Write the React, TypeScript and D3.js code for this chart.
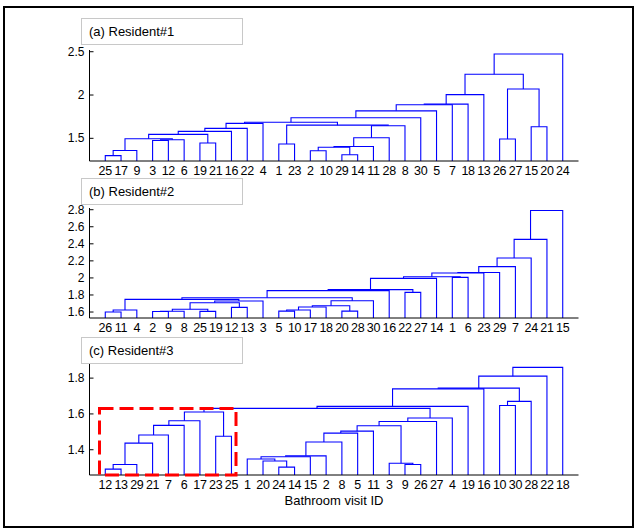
import React from "react";
import * as d3 from "d3";

const W = 636;
const H = 529;

// leaf order as drawn (left to right)
const leavesA = [25, 17, 9, 3, 12, 6, 19, 21, 16, 22, 4, 1, 23, 2, 10, 29, 14, 11, 28, 8, 30, 5, 7, 18, 13, 26, 27, 15, 20, 24];
const leavesB = [26, 11, 4, 2, 9, 8, 25, 19, 12, 13, 3, 5, 10, 17, 18, 20, 28, 30, 16, 22, 27, 14, 1, 6, 23, 29, 7, 24, 21, 15];
const leavesC = [12, 13, 29, 21, 7, 6, 17, 23, 25, 1, 20, 24, 14, 15, 2, 8, 5, 11, 3, 9, 26, 27, 4, 19, 16, 10, 30, 28, 22, 18];

// linkage: [left node, right node, height]; nodes 0..29 are leaf positions, 30+k is merge k
const linksA = [
  [0, 1, 1.3], [30, 2, 1.36], [3, 4, 1.475], [32, 5, 1.483], [31, 33, 1.495],
  [6, 7, 1.446], [34, 35, 1.546], [36, 8, 1.58], [37, 9, 1.615], [38, 10, 1.672],
  [11, 12, 1.434], [13, 14, 1.357], [15, 16, 1.311], [41, 42, 1.397], [43, 17, 1.405],
  [44, 18, 1.507], [45, 19, 1.645], [40, 46, 1.652], [39, 47, 1.685], [48, 20, 1.738],
  [49, 21, 1.817], [50, 22, 1.888], [51, 23, 1.895], [52, 24, 2.005], [25, 26, 1.492],
  [27, 28, 1.634], [54, 55, 2.07], [53, 56, 2.24], [57, 29, 2.473],
];
const linksB = [
  [0, 1, 1.6], [30, 2, 1.624], [3, 4, 1.607], [32, 5, 1.609], [6, 7, 1.608],
  [33, 34, 1.632], [8, 9, 1.655], [35, 36, 1.709], [37, 10, 1.729], [31, 38, 1.748],
  [11, 12, 1.611], [40, 13, 1.623], [41, 14, 1.659], [15, 16, 1.611], [42, 43, 1.674],
  [44, 17, 1.732], [39, 45, 1.768], [46, 18, 1.851], [19, 20, 1.831], [47, 48, 1.863],
  [49, 21, 1.995], [22, 23, 2.007], [50, 51, 2.013], [52, 24, 2.058], [53, 25, 2.064],
  [54, 26, 2.132], [55, 27, 2.234], [56, 28, 2.452], [57, 29, 2.79],
];
const linksC = [
  [0, 1, 1.292], [30, 2, 1.318], [31, 3, 1.437], [32, 4, 1.482], [33, 5, 1.536],
  [34, 6, 1.562], [7, 8, 1.475], [35, 36, 1.611], [11, 12, 1.303], [10, 38, 1.337],
  [9, 39, 1.348], [40, 13, 1.361], [41, 14, 1.366], [42, 15, 1.443], [43, 16, 1.493],
  [44, 17, 1.504], [19, 20, 1.318], [18, 46, 1.325], [45, 47, 1.534], [48, 21, 1.558],
  [49, 22, 1.577], [37, 50, 1.631], [51, 23, 1.642], [52, 24, 1.74], [25, 26, 1.647],
  [54, 27, 1.67], [53, 55, 1.744], [56, 28, 1.811], [57, 29, 1.86],
];

const ticksA = [1.5, 2, 2.5];
const ticksB = [1.6, 1.8, 2, 2.2, 2.4, 2.6, 2.8];
const ticksC = [1.4, 1.6, 1.8];

const panels = [
  { tag: "(a) Resident#1", leaves: leavesA, links: linksA, ticks: ticksA, domain: [1.238, 2.52], top: 50, bottom: 161, boxY: 18 },
  { tag: "(b) Resident#2", leaves: leavesB, links: linksB, ticks: ticksB, domain: [1.53, 2.82], top: 208, bottom: 318, boxY: 178 },
  { tag: "(c) Resident#3", leaves: leavesC, links: linksC, ticks: ticksC, domain: [1.259, 1.89], top: 362, bottom: 475, boxY: 337 },
];

const axLeft = 89.5;
const axRight = 578.5;
const font = "'Liberation Sans', Arial, sans-serif";

function Dendro({ p }: { p: any }) {
  const n = p.leaves.length;
  const x = d3.scaleLinear().domain([0, n + 1]).range([axLeft, axRight]);
  const y = d3.scaleLinear().domain(p.domain).range([p.bottom, p.top]);
  const px: number[] = p.leaves.map((_: number, i: number) => x(i + 1));
  const ph: number[] = p.leaves.map(() => p.domain[0]);
  const paths: string[] = [];
  p.links.forEach(([a, b, h]: number[]) => {
    const path = d3.path();
    path.moveTo(px[a], y(ph[a]));
    path.lineTo(px[a], y(h));
    path.lineTo(px[b], y(h));
    path.lineTo(px[b], y(ph[b]));
    paths.push(path.toString());
    px.push((px[a] + px[b]) / 2);
    ph.push(h);
  });
  return (
    <g>
      {paths.map((d, i) => (
        <path key={i} d={d} fill="none" stroke="#0000ff" strokeWidth={1.1} />
      ))}
      <line x1={axLeft} x2={axLeft} y1={p.top} y2={p.bottom} stroke="#000" />
      <line x1={axLeft} x2={axRight} y1={p.bottom} y2={p.bottom} stroke="#000" />
      {p.ticks.map((t: number) => (
        <g key={t}>
          <line x1={axLeft} x2={axLeft + 4} y1={y(t)} y2={y(t)} stroke="#000" />
          <text x={axLeft - 5} y={y(t) + 4} textAnchor="end" fontSize={12} fontFamily={font}>
            {String(t)}
          </text>
        </g>
      ))}
      {p.leaves.map((l: number, i: number) => (
        <text key={i} x={x(i + 1)} y={p.bottom + 13.5} textAnchor="middle" fontSize={12.5} letterSpacing={-0.3} fontFamily={font}>
          {l}
        </text>
      ))}
      <rect x={81.5} y={p.boxY + 0.5} width={161} height={26} fill="#fff" stroke="#c8c8c8" />
      <text x={89} y={p.boxY + 18} fontSize={13} fontFamily={font}>
        {p.tag}
      </text>
    </g>
  );
}

export default function App() {
  return (
    <svg width={W} height={H} style={{ position: "absolute", left: 0, top: 0, background: "#fff" }}>
      <rect x={4} y={7} width={629} height={520} fill="#fff" stroke="#000" strokeWidth={2} />
      {panels.map((p, i) => (
        <Dendro key={i} p={p} />
      ))}
      <rect x={99.5} y={408.5} width={136.5} height={66.5} fill="none" stroke="#ff0000" strokeWidth={3} strokeDasharray="14,6" />
      <text x={334} y={505} textAnchor="middle" fontSize={13} fontFamily={font}>
        Bathroom visit ID
      </text>
    </svg>
  );
}
